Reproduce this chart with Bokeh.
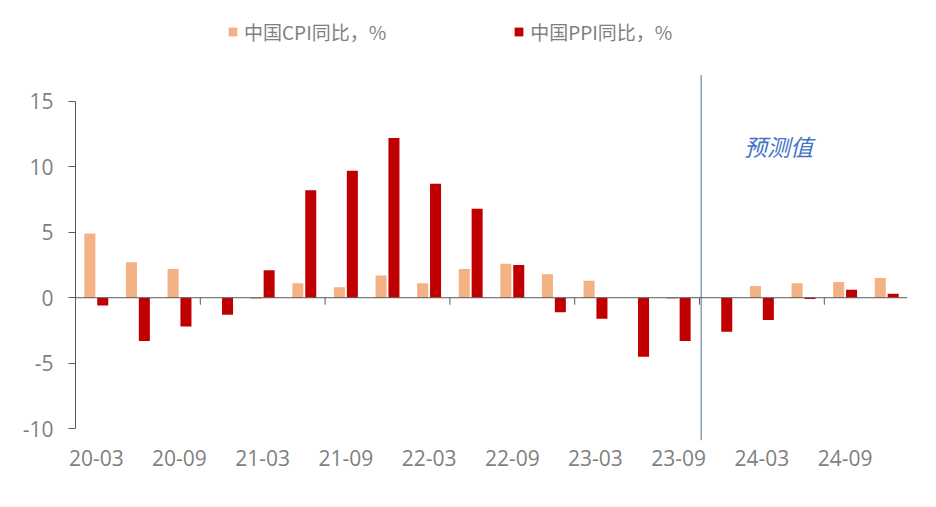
from bokeh.plotting import figure
from bokeh.models import (ColumnDataSource, Range1d, FixedTicker, LinearAxis, Legend,
                          LegendItem, Span, Label)
from bokeh.embed import file_html
from bokeh.resources import INLINE

quarters = ["20-03", "20-06", "20-09", "20-12", "21-03", "21-06", "21-09", "21-12",
            "22-03", "22-06", "22-09", "22-12", "23-03", "23-06", "23-09", "23-12",
            "24-03", "24-06", "24-09", "24-12"]
cpi = [4.9, 2.7, 2.2, 0.0, -0.1, 1.1, 0.8, 1.7, 1.1, 2.2, 2.6, 1.8, 1.3, 0.0, -0.1, 0.0,
       0.9, 1.1, 1.2, 1.5]
ppi = [-0.6, -3.3, -2.2, -1.3, 2.1, 8.2, 9.7, 12.2, 8.7, 6.8, 2.5, -1.1, -1.6, -4.5, -3.3, -2.6,
       -1.7, -0.1, 0.6, 0.3]
y_ticks = [-10, -5, 0, 5, 10, 15]
y_tick_labels = ["-10", "-5", "0", "5", "10", "15"]
forecast_start = "23-12"
cpi_name = "中国CPI同比，%"
ppi_name = "中国PPI同比，%"
forecast_label = "预测值"

FONT = "Open Sans"
CJK = "Noto Sans CJK SC"
GRAY = "#7f7f7f"
AXIS = "#595959"
CPI_C = "#F4B183"
PPI_C = "#C00000"

n = len(quarters)
idx = list(range(n))
bw = 0.265
off = 0.155
src = ColumnDataSource(dict(
    x_cpi=[i + 0.5 - off for i in idx],
    x_ppi=[i + 0.5 + off for i in idx],
    cpi=cpi, ppi=ppi))

# frame: y 16 .. 440 -> 424 px; 13.1 px per unit
y_lo, y_hi = -10.9, 21.47
p = figure(width=922, height=476, output_backend="svg", toolbar_location=None,
           x_range=Range1d(0, n), y_range=Range1d(y_lo, y_hi),
           min_border_left=75, min_border_right=15, min_border_top=16, min_border_bottom=36,
           x_axis_type=None, y_axis_type=None)
p.outline_line_color = None
p.grid.visible = False

r_cpi = p.vbar(x="x_cpi", top="cpi", bottom=0, width=bw, source=src,
               fill_color=CPI_C, line_color=None)
r_ppi = p.vbar(x="x_ppi", top="ppi", bottom=0, width=bw, source=src,
               fill_color=PPI_C, line_color=None)

# zero line with tick marks every 3 quarters
p.add_layout(Span(location=0, dimension="width", line_color=AXIS, line_width=1))
tick_x = list(range(3, n, 3))
tick_len = 7 / 13.1
p.segment(x0=tick_x, x1=tick_x, y0=[0] * len(tick_x), y1=[-tick_len] * len(tick_x),
          line_color=AXIS, line_width=1)

# y axis
yax = LinearAxis(ticker=FixedTicker(ticks=y_ticks), bounds=(min(y_ticks), max(y_ticks)))
yax.major_label_overrides = dict(zip(y_ticks, y_tick_labels))
yax.axis_line_color = AXIS
yax.major_tick_line_color = AXIS
yax.major_tick_out = 7
yax.major_tick_in = 0
yax.minor_tick_line_color = None
yax.major_label_standoff = 15
yax.major_label_text_font = FONT
yax.major_label_text_font_size = "21px"
yax.major_label_text_color = GRAY
p.add_layout(yax, "left")

# x labels axis (bottom)
label_pos = [i + 0.5 for i in idx[::2]]
xax = LinearAxis(ticker=FixedTicker(ticks=label_pos))
xax.major_label_overrides = {i + 0.5: quarters[i] for i in idx[::2]}
xax.axis_line_color = None
xax.major_tick_line_color = None
xax.minor_tick_line_color = None
xax.major_tick_out = 0
xax.major_tick_in = 0
xax.major_label_standoff = 9
xax.major_label_text_font = FONT
xax.major_label_text_font_size = "21px"
xax.major_label_text_color = GRAY
p.add_layout(xax, "below")

# forecast divider
fx = quarters.index(forecast_start) + 0.04
p.segment(x0=[fx], x1=[fx], y0=[y_lo], y1=[17.0], line_color="#44709A", line_width=1)
p.add_layout(Label(x=fx + 1.03, y=11.6, text=forecast_label, text_font=CJK,
                   text_font_size="23px", text_font_style="italic", text_color="#4472C4",
                   text_baseline="middle", text_align="left"))

legend = Legend(items=[LegendItem(label=cpi_name, renderers=[r_cpi]),
                       LegendItem(label=ppi_name, renderers=[r_ppi])],
                orientation="horizontal", location=(152, 395))
legend.glyph_width = 11
legend.glyph_height = 11
legend.label_standoff = 6
legend.spacing = 127
legend.padding = 0
legend.margin = 0
legend.border_line_color = None
legend.background_fill_alpha = 0
legend.label_text_font = CJK
legend.label_text_font_size = "19px"
legend.label_text_color = GRAY
p.add_layout(legend, "center")

open("out.html", "w").write(file_html(p, INLINE))
